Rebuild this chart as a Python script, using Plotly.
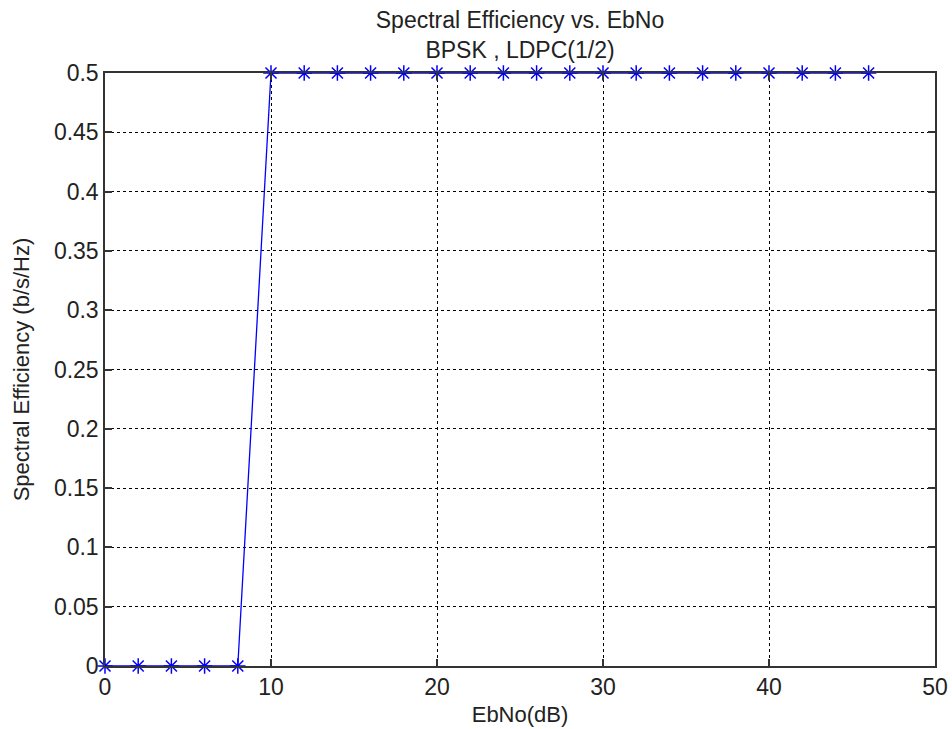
import plotly.graph_objects as go

ebno_db = [0, 2, 4, 6, 8, 10, 12, 14, 16, 18, 20, 22, 24, 26, 28, 30, 32, 34, 36, 38, 40, 42, 44, 46]
spectral_eff = [0, 0, 0, 0, 0, 0.5, 0.5, 0.5, 0.5, 0.5, 0.5, 0.5, 0.5, 0.5, 0.5, 0.5, 0.5, 0.5, 0.5, 0.5, 0.5, 0.5, 0.5, 0.5]
x_ticks = [0, 10, 20, 30, 40, 50]
y_ticks = [0, 0.05, 0.1, 0.15, 0.2, 0.25, 0.3, 0.35, 0.4, 0.45, 0.5]
y_tick_labels = ["0", "0.05", "0.1", "0.15", "0.2", "0.25", "0.3", "0.35", "0.4", "0.45", "0.5"]

TICK_FS = 23
TITLE_FS = 23
LABEL_FS = 22

fig = go.Figure()
fig.add_trace(go.Scatter(
    x=ebno_db, y=spectral_eff, mode="lines+markers",
    line=dict(color="#0000ff", width=1.3),
    marker=dict(symbol="asterisk", size=13, color="#0000ff",
                line=dict(color="#0000ff", width=1.5)),
    cliponaxis=False, showlegend=False,
))

axis_common = dict(
    showline=True, linecolor="#333333", linewidth=1.5, mirror="ticks",
    ticks="inside", ticklen=7, tickcolor="#333333", tickwidth=1.5,
    showgrid=True, gridcolor="#000000", gridwidth=1, griddash="dot",
    zeroline=False, tickfont=dict(size=TICK_FS, color="#222222"),
    automargin=False,
)

fig.update_layout(
    width=952, height=729,
    paper_bgcolor="white", plot_bgcolor="white",
    font=dict(family="Liberation Sans, Arial, sans-serif", color="#222222"),
    margin=dict(l=105, r=17, t=73, b=63),
    title=dict(text="Spectral Efficiency vs. EbNo<br>BPSK , LDPC(1/2)",
               x=0.5, xanchor="center", xref="paper",
               yref="container", y=0.961, yanchor="middle",
               font=dict(size=TITLE_FS, color="#222222"), automargin=False),
    xaxis=dict(range=[0, 50], tickvals=x_ticks,
               title=dict(text="EbNo(dB)", font=dict(size=LABEL_FS), standoff=7),
               **axis_common),
    yaxis=dict(range=[0, 0.5], tickvals=y_ticks, ticktext=y_tick_labels,
               title=dict(text="Spectral Efficiency (b/s/Hz)", font=dict(size=LABEL_FS), standoff=18),
               **axis_common),
)

fig.write_html("out.html",
               config={"displayModeBar": False},
               post_script="document.body.style.margin='0';document.body.style.overflow='hidden';")
